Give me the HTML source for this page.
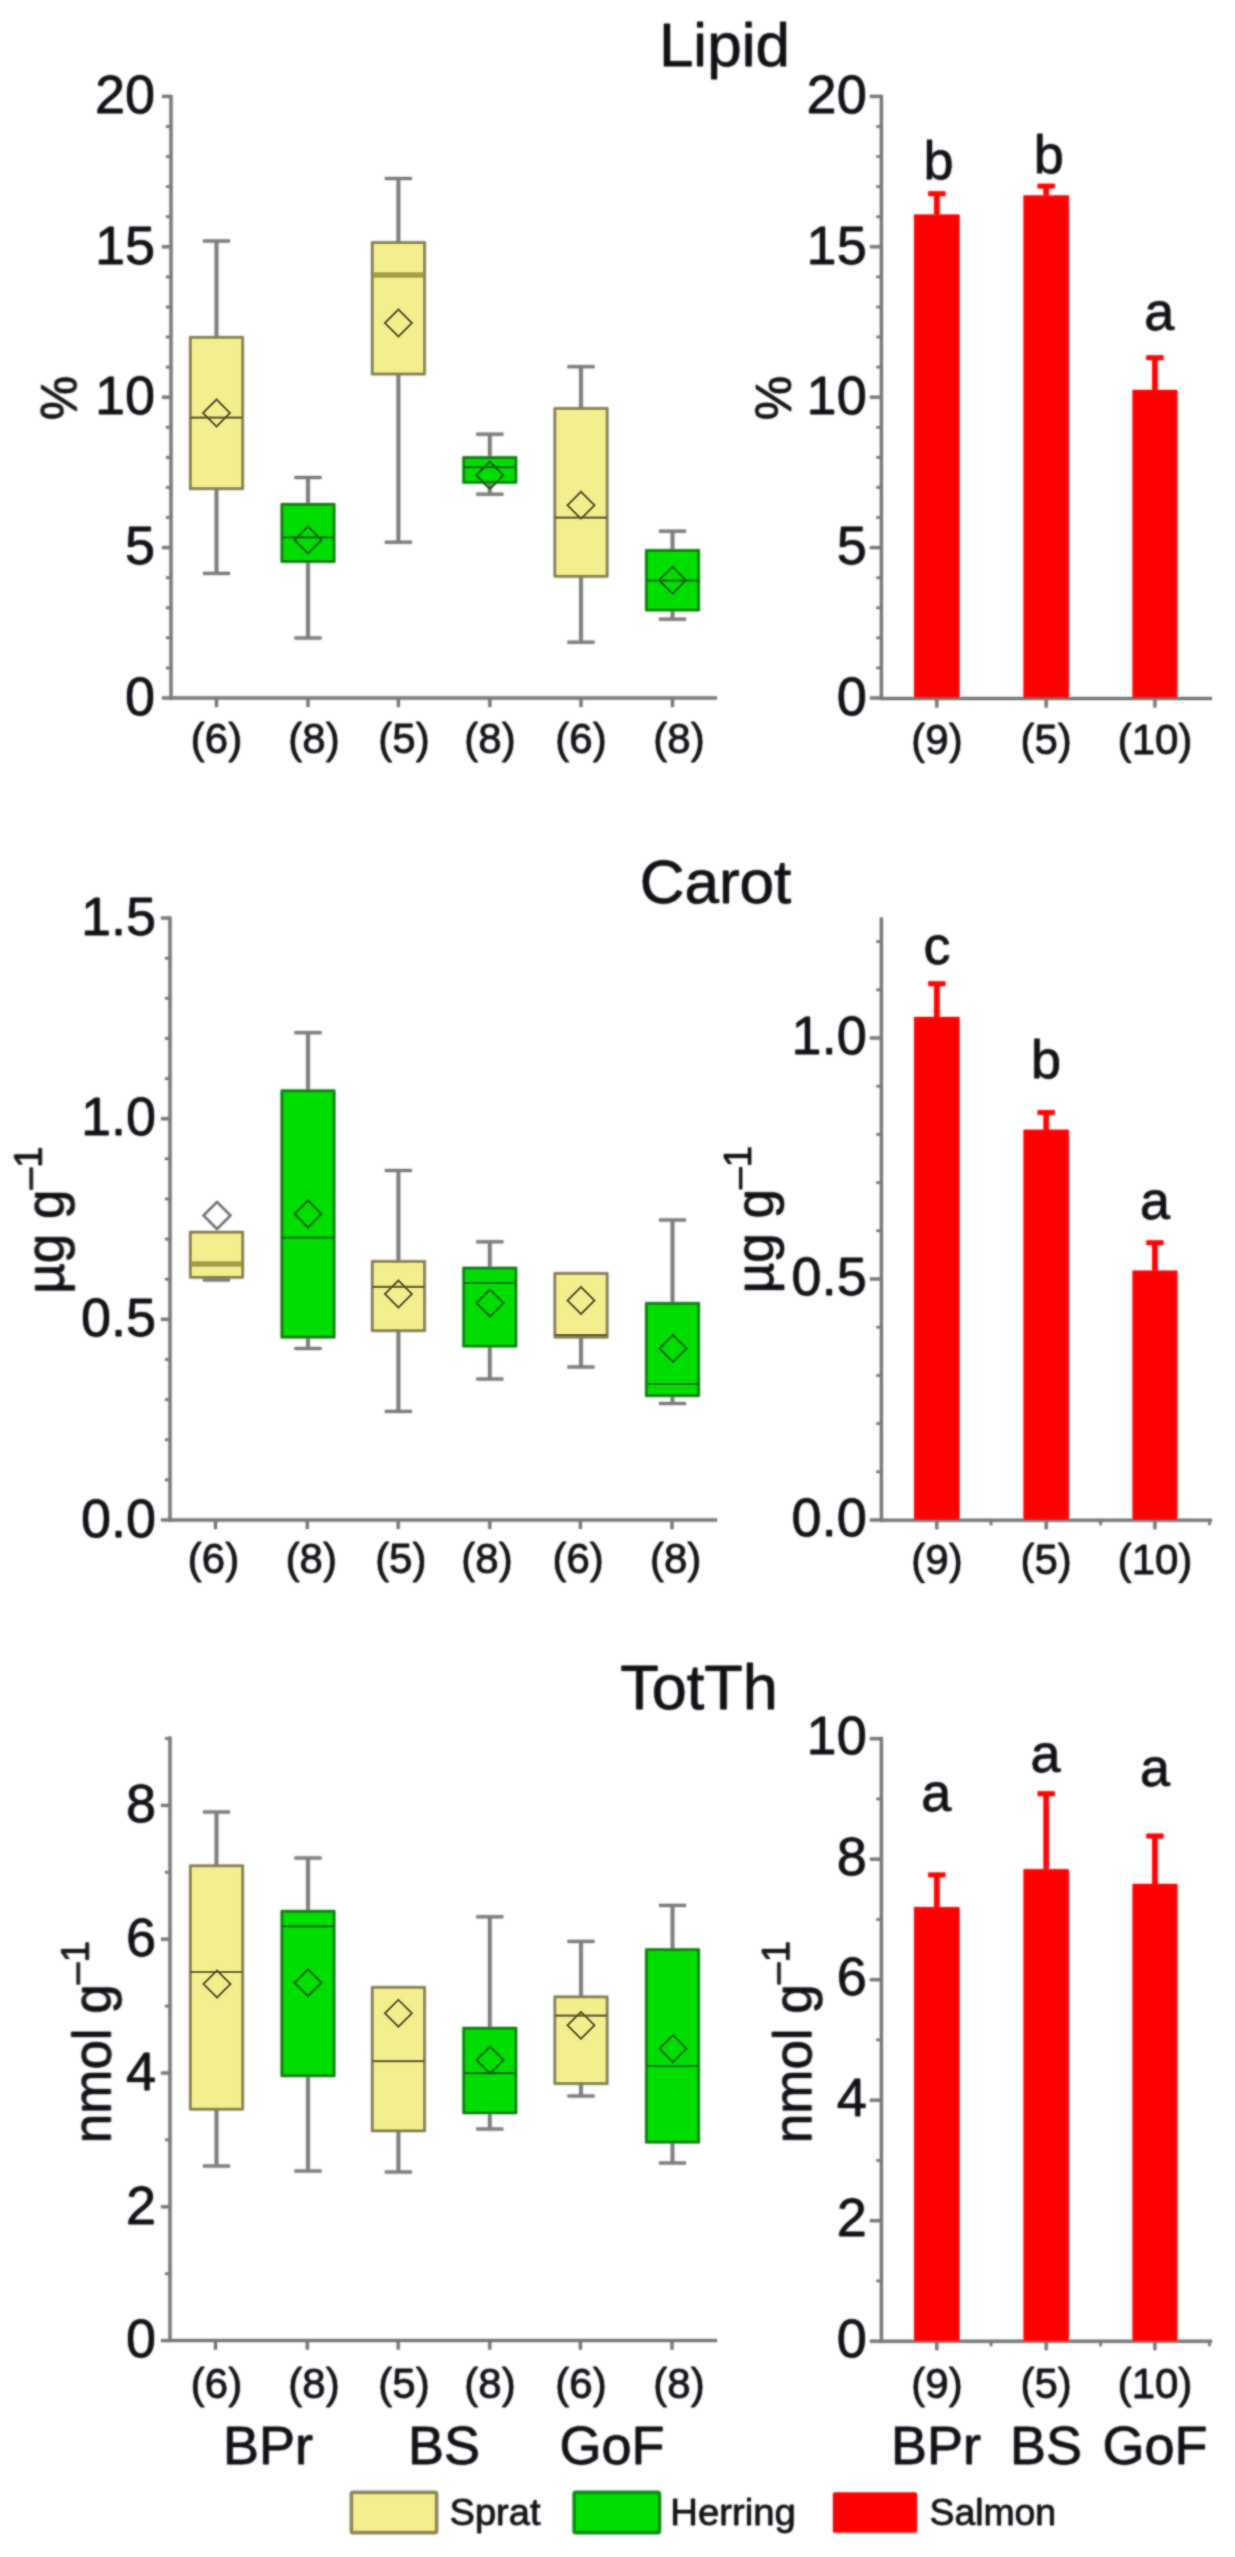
<!DOCTYPE html>
<html><head><meta charset="utf-8"><title>Figure</title>
<style>html,body{margin:0;padding:0;background:#fff}svg{display:block}</style>
</head><body>
<svg width="1235" height="2557" viewBox="0 0 1235 2557" font-family="Liberation Sans, Arial, sans-serif">
<style>text{stroke:#101014;stroke-width:0.3px;paint-order:stroke}</style>
<defs><filter id="soft" x="0" y="0" width="1235" height="2557" filterUnits="userSpaceOnUse"><feGaussianBlur stdDeviation="1"/></filter></defs>
<rect width="1235" height="2557" fill="#fff"/>
<use href="#fig" filter="url(#soft)"/>
<g opacity="0.5"><g id="fig">
<line x1="171.0" y1="94.9" x2="171.0" y2="699.5" stroke="#767676" stroke-width="3"/>
<line x1="169.5" y1="698.0" x2="717.0" y2="698.0" stroke="#767676" stroke-width="3"/>
<line x1="162.0" y1="698.0" x2="171.0" y2="698.0" stroke="#767676" stroke-width="3"/>
<text x="155.0" y="714.7" font-size="54" text-anchor="end" fill="#101014" >0</text>
<line x1="162.0" y1="547.6" x2="171.0" y2="547.6" stroke="#767676" stroke-width="3"/>
<text x="155.0" y="564.3" font-size="54" text-anchor="end" fill="#101014" >5</text>
<line x1="162.0" y1="397.2" x2="171.0" y2="397.2" stroke="#767676" stroke-width="3"/>
<text x="155.0" y="413.9" font-size="54" text-anchor="end" fill="#101014" >10</text>
<line x1="162.0" y1="246.8" x2="171.0" y2="246.8" stroke="#767676" stroke-width="3"/>
<text x="155.0" y="263.5" font-size="54" text-anchor="end" fill="#101014" >15</text>
<line x1="162.0" y1="96.4" x2="171.0" y2="96.4" stroke="#767676" stroke-width="3"/>
<text x="155.0" y="113.1" font-size="54" text-anchor="end" fill="#101014" >20</text>
<line x1="166.0" y1="667.9" x2="171.0" y2="667.9" stroke="#767676" stroke-width="2.4000000000000004"/>
<line x1="166.0" y1="637.8" x2="171.0" y2="637.8" stroke="#767676" stroke-width="2.4000000000000004"/>
<line x1="166.0" y1="607.8" x2="171.0" y2="607.8" stroke="#767676" stroke-width="2.4000000000000004"/>
<line x1="166.0" y1="577.7" x2="171.0" y2="577.7" stroke="#767676" stroke-width="2.4000000000000004"/>
<line x1="166.0" y1="517.5" x2="171.0" y2="517.5" stroke="#767676" stroke-width="2.4000000000000004"/>
<line x1="166.0" y1="487.4" x2="171.0" y2="487.4" stroke="#767676" stroke-width="2.4000000000000004"/>
<line x1="166.0" y1="457.4" x2="171.0" y2="457.4" stroke="#767676" stroke-width="2.4000000000000004"/>
<line x1="166.0" y1="427.3" x2="171.0" y2="427.3" stroke="#767676" stroke-width="2.4000000000000004"/>
<line x1="166.0" y1="367.1" x2="171.0" y2="367.1" stroke="#767676" stroke-width="2.4000000000000004"/>
<line x1="166.0" y1="337.0" x2="171.0" y2="337.0" stroke="#767676" stroke-width="2.4000000000000004"/>
<line x1="166.0" y1="307.0" x2="171.0" y2="307.0" stroke="#767676" stroke-width="2.4000000000000004"/>
<line x1="166.0" y1="276.9" x2="171.0" y2="276.9" stroke="#767676" stroke-width="2.4000000000000004"/>
<line x1="166.0" y1="216.7" x2="171.0" y2="216.7" stroke="#767676" stroke-width="2.4000000000000004"/>
<line x1="166.0" y1="186.6" x2="171.0" y2="186.6" stroke="#767676" stroke-width="2.4000000000000004"/>
<line x1="166.0" y1="156.6" x2="171.0" y2="156.6" stroke="#767676" stroke-width="2.4000000000000004"/>
<line x1="166.0" y1="126.5" x2="171.0" y2="126.5" stroke="#767676" stroke-width="2.4000000000000004"/>
<line x1="216.5" y1="698.0" x2="216.5" y2="707.0" stroke="#767676" stroke-width="3"/>
<line x1="308.0" y1="698.0" x2="308.0" y2="707.0" stroke="#767676" stroke-width="3"/>
<line x1="398.4" y1="698.0" x2="398.4" y2="707.0" stroke="#767676" stroke-width="3"/>
<line x1="489.8" y1="698.0" x2="489.8" y2="707.0" stroke="#767676" stroke-width="3"/>
<line x1="581.0" y1="698.0" x2="581.0" y2="707.0" stroke="#767676" stroke-width="3"/>
<line x1="672.5" y1="698.0" x2="672.5" y2="707.0" stroke="#767676" stroke-width="3"/>
<line x1="216.5" y1="241.0" x2="216.5" y2="337.5" stroke="#7a7a7a" stroke-width="3.5"/>
<line x1="203.0" y1="241.0" x2="230.0" y2="241.0" stroke="#7a7a7a" stroke-width="3"/>
<line x1="216.5" y1="488.5" x2="216.5" y2="573.4" stroke="#7a7a7a" stroke-width="3.5"/>
<line x1="203.0" y1="573.4" x2="230.0" y2="573.4" stroke="#7a7a7a" stroke-width="3"/>
<rect x="190.5" y="337.5" width="52.0" height="151.0" fill="#f3ee8e" stroke="#817c4e" stroke-width="2.6"/>
<line x1="190.5" y1="417.7" x2="242.5" y2="417.7" stroke="#5a5528" stroke-width="2.2"/>
<path d="M203.0 413.0 L216.5 399.5 L230.0 413.0 L216.5 426.5 Z" fill="none" stroke="#4a4622" stroke-width="2"/>
<line x1="308.0" y1="477.5" x2="308.0" y2="504.5" stroke="#7a7a7a" stroke-width="3.5"/>
<line x1="294.5" y1="477.5" x2="321.5" y2="477.5" stroke="#7a7a7a" stroke-width="3"/>
<line x1="308.0" y1="561.4" x2="308.0" y2="638.0" stroke="#7a7a7a" stroke-width="3.5"/>
<line x1="294.5" y1="638.0" x2="321.5" y2="638.0" stroke="#7a7a7a" stroke-width="3"/>
<rect x="282.0" y="504.5" width="52.0" height="56.9" fill="#00de02" stroke="#0c7a0c" stroke-width="2.6"/>
<line x1="282.0" y1="537.4" x2="334.0" y2="537.4" stroke="#0c6a0c" stroke-width="2.2"/>
<path d="M294.5 540.0 L308.0 526.5 L321.5 540.0 L308.0 553.5 Z" fill="none" stroke="#0b5a0b" stroke-width="2"/>
<line x1="398.4" y1="178.5" x2="398.4" y2="242.7" stroke="#7a7a7a" stroke-width="3.5"/>
<line x1="384.9" y1="178.5" x2="411.9" y2="178.5" stroke="#7a7a7a" stroke-width="3"/>
<line x1="398.4" y1="373.9" x2="398.4" y2="542.2" stroke="#7a7a7a" stroke-width="3.5"/>
<line x1="384.9" y1="542.2" x2="411.9" y2="542.2" stroke="#7a7a7a" stroke-width="3"/>
<rect x="372.4" y="242.7" width="52.0" height="131.2" fill="#f3ee8e" stroke="#817c4e" stroke-width="2.6"/>
<line x1="373.4" y1="275.0" x2="423.4" y2="275.0" stroke="#a39d48" stroke-width="5.5"/>
<path d="M384.9 323.0 L398.4 309.5 L411.9 323.0 L398.4 336.5 Z" fill="none" stroke="#4a4622" stroke-width="2"/>
<line x1="489.8" y1="434.2" x2="489.8" y2="457.7" stroke="#7a7a7a" stroke-width="3.5"/>
<line x1="476.3" y1="434.2" x2="503.3" y2="434.2" stroke="#7a7a7a" stroke-width="3"/>
<line x1="489.8" y1="482.2" x2="489.8" y2="494.2" stroke="#7a7a7a" stroke-width="3.5"/>
<line x1="476.3" y1="494.2" x2="503.3" y2="494.2" stroke="#7a7a7a" stroke-width="3"/>
<rect x="463.8" y="457.7" width="52.0" height="24.5" fill="#00de02" stroke="#0c7a0c" stroke-width="2.6"/>
<line x1="463.8" y1="467.2" x2="515.8" y2="467.2" stroke="#0c6a0c" stroke-width="2.2"/>
<path d="M476.3 475.2 L489.8 461.7 L503.3 475.2 L489.8 488.7 Z" fill="none" stroke="#0b5a0b" stroke-width="2"/>
<line x1="581.0" y1="366.7" x2="581.0" y2="408.6" stroke="#7a7a7a" stroke-width="3.5"/>
<line x1="567.5" y1="366.7" x2="594.5" y2="366.7" stroke="#7a7a7a" stroke-width="3"/>
<line x1="581.0" y1="576.2" x2="581.0" y2="642.2" stroke="#7a7a7a" stroke-width="3.5"/>
<line x1="567.5" y1="642.2" x2="594.5" y2="642.2" stroke="#7a7a7a" stroke-width="3"/>
<rect x="555.0" y="408.6" width="52.0" height="167.6" fill="#f3ee8e" stroke="#817c4e" stroke-width="2.6"/>
<line x1="555.0" y1="517.7" x2="607.0" y2="517.7" stroke="#5a5528" stroke-width="2.2"/>
<path d="M567.5 505.2 L581.0 491.7 L594.5 505.2 L581.0 518.7 Z" fill="none" stroke="#4a4622" stroke-width="2"/>
<line x1="672.5" y1="531.2" x2="672.5" y2="550.6" stroke="#7a7a7a" stroke-width="3.5"/>
<line x1="659.0" y1="531.2" x2="686.0" y2="531.2" stroke="#7a7a7a" stroke-width="3"/>
<line x1="672.5" y1="609.9" x2="672.5" y2="619.2" stroke="#7a7a7a" stroke-width="3.5"/>
<line x1="659.0" y1="619.2" x2="686.0" y2="619.2" stroke="#7a7a7a" stroke-width="3"/>
<rect x="646.5" y="550.6" width="52.0" height="59.3" fill="#00de02" stroke="#0c7a0c" stroke-width="2.6"/>
<line x1="646.5" y1="580.6" x2="698.5" y2="580.6" stroke="#0c6a0c" stroke-width="2.2"/>
<path d="M659.0 580.2 L672.5 566.7 L686.0 580.2 L672.5 593.7 Z" fill="none" stroke="#0b5a0b" stroke-width="2"/>
<text x="216.5" y="753.2" font-size="42" text-anchor="middle" fill="#101014" >(6)</text>
<text x="314.0" y="753.2" font-size="42" text-anchor="middle" fill="#101014" >(8)</text>
<text x="404.0" y="753.2" font-size="42" text-anchor="middle" fill="#101014" >(5)</text>
<text x="490.0" y="753.2" font-size="42" text-anchor="middle" fill="#101014" >(8)</text>
<text x="581.0" y="753.2" font-size="42" text-anchor="middle" fill="#101014" >(6)</text>
<text x="679.0" y="753.2" font-size="42" text-anchor="middle" fill="#101014" >(8)</text>
<text x="724.4" y="66.0" font-size="62" text-anchor="middle" fill="#101014" >Lipid</text>
<text transform="translate(76.5,398) rotate(-90)" font-size="50" text-anchor="middle" fill="#101014">%</text>
<line x1="881.4" y1="94.9" x2="881.4" y2="700.0" stroke="#767676" stroke-width="3"/>
<line x1="879.9" y1="698.5" x2="1212.0" y2="698.5" stroke="#767676" stroke-width="3"/>
<line x1="869.9" y1="698.0" x2="881.4" y2="698.0" stroke="#767676" stroke-width="3"/>
<text x="866.7" y="714.7" font-size="54" text-anchor="end" fill="#101014" >0</text>
<line x1="869.9" y1="547.6" x2="881.4" y2="547.6" stroke="#767676" stroke-width="3"/>
<text x="866.7" y="564.3" font-size="54" text-anchor="end" fill="#101014" >5</text>
<line x1="869.9" y1="397.2" x2="881.4" y2="397.2" stroke="#767676" stroke-width="3"/>
<text x="866.7" y="413.9" font-size="54" text-anchor="end" fill="#101014" >10</text>
<line x1="869.9" y1="246.8" x2="881.4" y2="246.8" stroke="#767676" stroke-width="3"/>
<text x="866.7" y="263.5" font-size="54" text-anchor="end" fill="#101014" >15</text>
<line x1="869.9" y1="96.4" x2="881.4" y2="96.4" stroke="#767676" stroke-width="3"/>
<text x="866.7" y="113.1" font-size="54" text-anchor="end" fill="#101014" >20</text>
<line x1="876.4" y1="667.9" x2="881.4" y2="667.9" stroke="#767676" stroke-width="2.4000000000000004"/>
<line x1="876.4" y1="637.8" x2="881.4" y2="637.8" stroke="#767676" stroke-width="2.4000000000000004"/>
<line x1="876.4" y1="607.8" x2="881.4" y2="607.8" stroke="#767676" stroke-width="2.4000000000000004"/>
<line x1="876.4" y1="577.7" x2="881.4" y2="577.7" stroke="#767676" stroke-width="2.4000000000000004"/>
<line x1="876.4" y1="517.5" x2="881.4" y2="517.5" stroke="#767676" stroke-width="2.4000000000000004"/>
<line x1="876.4" y1="487.4" x2="881.4" y2="487.4" stroke="#767676" stroke-width="2.4000000000000004"/>
<line x1="876.4" y1="457.4" x2="881.4" y2="457.4" stroke="#767676" stroke-width="2.4000000000000004"/>
<line x1="876.4" y1="427.3" x2="881.4" y2="427.3" stroke="#767676" stroke-width="2.4000000000000004"/>
<line x1="876.4" y1="367.1" x2="881.4" y2="367.1" stroke="#767676" stroke-width="2.4000000000000004"/>
<line x1="876.4" y1="337.0" x2="881.4" y2="337.0" stroke="#767676" stroke-width="2.4000000000000004"/>
<line x1="876.4" y1="307.0" x2="881.4" y2="307.0" stroke="#767676" stroke-width="2.4000000000000004"/>
<line x1="876.4" y1="276.9" x2="881.4" y2="276.9" stroke="#767676" stroke-width="2.4000000000000004"/>
<line x1="876.4" y1="216.7" x2="881.4" y2="216.7" stroke="#767676" stroke-width="2.4000000000000004"/>
<line x1="876.4" y1="186.6" x2="881.4" y2="186.6" stroke="#767676" stroke-width="2.4000000000000004"/>
<line x1="876.4" y1="156.6" x2="881.4" y2="156.6" stroke="#767676" stroke-width="2.4000000000000004"/>
<line x1="876.4" y1="126.5" x2="881.4" y2="126.5" stroke="#767676" stroke-width="2.4000000000000004"/>
<line x1="936.8" y1="698.5" x2="936.8" y2="707.5" stroke="#767676" stroke-width="3"/>
<line x1="1046.2" y1="698.5" x2="1046.2" y2="707.5" stroke="#767676" stroke-width="3"/>
<line x1="1154.9" y1="698.5" x2="1154.9" y2="707.5" stroke="#767676" stroke-width="3"/>
<rect x="914.2" y="214.6" width="45.2" height="483.4" fill="#ff0000"/>
<line x1="936.8" y1="193.0" x2="936.8" y2="214.6" stroke="#ff0000" stroke-width="5.2"/>
<line x1="928.3" y1="193.7" x2="945.3" y2="193.7" stroke="#ff0000" stroke-width="4.6"/>
<rect x="1023.6" y="195.5" width="45.2" height="502.5" fill="#ff0000"/>
<line x1="1046.2" y1="185.4" x2="1046.2" y2="195.5" stroke="#ff0000" stroke-width="5.2"/>
<line x1="1037.7" y1="186.1" x2="1054.7" y2="186.1" stroke="#ff0000" stroke-width="4.6"/>
<rect x="1132.6" y="390.0" width="44.7" height="308.0" fill="#ff0000"/>
<line x1="1154.9" y1="357.0" x2="1154.9" y2="390.0" stroke="#ff0000" stroke-width="5.2"/>
<line x1="1146.4" y1="357.7" x2="1163.4" y2="357.7" stroke="#ff0000" stroke-width="4.6"/>
<text x="937.0" y="753.6" font-size="42" text-anchor="middle" fill="#101014" >(9)</text>
<text x="1046.2" y="753.6" font-size="42" text-anchor="middle" fill="#101014" >(5)</text>
<text x="1155.0" y="753.6" font-size="42" text-anchor="middle" fill="#101014" >(10)</text>
<text x="938.6" y="178.5" font-size="54" text-anchor="middle" fill="#101014" >b</text>
<text x="1048.8" y="172.5" font-size="54" text-anchor="middle" fill="#101014" >b</text>
<text x="1159.3" y="329.5" font-size="54" text-anchor="middle" fill="#101014" >a</text>
<text transform="translate(790.5,398) rotate(-90)" font-size="50" text-anchor="middle" fill="#101014">%</text>
<line x1="170.0" y1="916.6" x2="170.0" y2="1521.5" stroke="#767676" stroke-width="3"/>
<line x1="168.5" y1="1520.0" x2="717.0" y2="1520.0" stroke="#767676" stroke-width="3"/>
<line x1="161.0" y1="1520.0" x2="170.0" y2="1520.0" stroke="#767676" stroke-width="3"/>
<text x="156.0" y="1536.7" font-size="54" text-anchor="end" fill="#101014" >0.0</text>
<line x1="161.0" y1="1319.3" x2="170.0" y2="1319.3" stroke="#767676" stroke-width="3"/>
<text x="156.0" y="1336.0" font-size="54" text-anchor="end" fill="#101014" >0.5</text>
<line x1="161.0" y1="1118.7" x2="170.0" y2="1118.7" stroke="#767676" stroke-width="3"/>
<text x="156.0" y="1135.4" font-size="54" text-anchor="end" fill="#101014" >1.0</text>
<line x1="161.0" y1="918.0" x2="170.0" y2="918.0" stroke="#767676" stroke-width="3"/>
<text x="156.0" y="934.8" font-size="54" text-anchor="end" fill="#101014" >1.5</text>
<line x1="165.0" y1="1479.9" x2="170.0" y2="1479.9" stroke="#767676" stroke-width="2.4000000000000004"/>
<line x1="165.0" y1="1439.7" x2="170.0" y2="1439.7" stroke="#767676" stroke-width="2.4000000000000004"/>
<line x1="165.0" y1="1399.6" x2="170.0" y2="1399.6" stroke="#767676" stroke-width="2.4000000000000004"/>
<line x1="165.0" y1="1359.5" x2="170.0" y2="1359.5" stroke="#767676" stroke-width="2.4000000000000004"/>
<line x1="165.0" y1="1279.2" x2="170.0" y2="1279.2" stroke="#767676" stroke-width="2.4000000000000004"/>
<line x1="165.0" y1="1239.1" x2="170.0" y2="1239.1" stroke="#767676" stroke-width="2.4000000000000004"/>
<line x1="165.0" y1="1199.0" x2="170.0" y2="1199.0" stroke="#767676" stroke-width="2.4000000000000004"/>
<line x1="165.0" y1="1158.8" x2="170.0" y2="1158.8" stroke="#767676" stroke-width="2.4000000000000004"/>
<line x1="165.0" y1="1078.6" x2="170.0" y2="1078.6" stroke="#767676" stroke-width="2.4000000000000004"/>
<line x1="165.0" y1="1038.4" x2="170.0" y2="1038.4" stroke="#767676" stroke-width="2.4000000000000004"/>
<line x1="165.0" y1="998.3" x2="170.0" y2="998.3" stroke="#767676" stroke-width="2.4000000000000004"/>
<line x1="165.0" y1="958.2" x2="170.0" y2="958.2" stroke="#767676" stroke-width="2.4000000000000004"/>
<line x1="215.5" y1="1520.0" x2="215.5" y2="1529.0" stroke="#767676" stroke-width="3"/>
<line x1="307.3" y1="1520.0" x2="307.3" y2="1529.0" stroke="#767676" stroke-width="3"/>
<line x1="398.2" y1="1520.0" x2="398.2" y2="1529.0" stroke="#767676" stroke-width="3"/>
<line x1="489.8" y1="1520.0" x2="489.8" y2="1529.0" stroke="#767676" stroke-width="3"/>
<line x1="580.4" y1="1520.0" x2="580.4" y2="1529.0" stroke="#767676" stroke-width="3"/>
<line x1="672.0" y1="1520.0" x2="672.0" y2="1529.0" stroke="#767676" stroke-width="3"/>
<line x1="216.5" y1="1277.2" x2="216.5" y2="1280.0" stroke="#7a7a7a" stroke-width="3.5"/>
<line x1="203.0" y1="1280.0" x2="230.0" y2="1280.0" stroke="#7a7a7a" stroke-width="3"/>
<rect x="190.5" y="1232.3" width="52.0" height="44.9" fill="#f3ee8e" stroke="#817c4e" stroke-width="2.6"/>
<line x1="191.5" y1="1264.0" x2="241.5" y2="1264.0" stroke="#a39d48" stroke-width="5.5"/>
<path d="M203.5 1215.5 L217.0 1202.0 L230.5 1215.5 L217.0 1229.0 Z" fill="none" stroke="#6a6a6a" stroke-width="2"/>
<line x1="308.0" y1="1032.7" x2="308.0" y2="1090.9" stroke="#7a7a7a" stroke-width="3.5"/>
<line x1="294.5" y1="1032.7" x2="321.5" y2="1032.7" stroke="#7a7a7a" stroke-width="3"/>
<line x1="308.0" y1="1337.0" x2="308.0" y2="1348.5" stroke="#7a7a7a" stroke-width="3.5"/>
<line x1="294.5" y1="1348.5" x2="321.5" y2="1348.5" stroke="#7a7a7a" stroke-width="3"/>
<rect x="282.0" y="1090.9" width="52.0" height="246.1" fill="#00de02" stroke="#0c7a0c" stroke-width="2.6"/>
<line x1="282.0" y1="1237.7" x2="334.0" y2="1237.7" stroke="#0c6a0c" stroke-width="2.2"/>
<path d="M294.5 1214.0 L308.0 1200.5 L321.5 1214.0 L308.0 1227.5 Z" fill="none" stroke="#0b5a0b" stroke-width="2"/>
<line x1="398.4" y1="1170.5" x2="398.4" y2="1261.6" stroke="#7a7a7a" stroke-width="3.5"/>
<line x1="384.9" y1="1170.5" x2="411.9" y2="1170.5" stroke="#7a7a7a" stroke-width="3"/>
<line x1="398.4" y1="1330.5" x2="398.4" y2="1411.4" stroke="#7a7a7a" stroke-width="3.5"/>
<line x1="384.9" y1="1411.4" x2="411.9" y2="1411.4" stroke="#7a7a7a" stroke-width="3"/>
<rect x="372.4" y="1261.6" width="52.0" height="68.9" fill="#f3ee8e" stroke="#817c4e" stroke-width="2.6"/>
<line x1="372.4" y1="1286.8" x2="424.4" y2="1286.8" stroke="#5a5528" stroke-width="2.2"/>
<path d="M384.9 1294.0 L398.4 1280.5 L411.9 1294.0 L398.4 1307.5 Z" fill="none" stroke="#4a4622" stroke-width="2"/>
<line x1="489.8" y1="1241.8" x2="489.8" y2="1268.2" stroke="#7a7a7a" stroke-width="3.5"/>
<line x1="476.3" y1="1241.8" x2="503.3" y2="1241.8" stroke="#7a7a7a" stroke-width="3"/>
<line x1="489.8" y1="1346.0" x2="489.8" y2="1379.0" stroke="#7a7a7a" stroke-width="3.5"/>
<line x1="476.3" y1="1379.0" x2="503.3" y2="1379.0" stroke="#7a7a7a" stroke-width="3"/>
<rect x="463.8" y="1268.2" width="52.0" height="77.8" fill="#00de02" stroke="#0c7a0c" stroke-width="2.6"/>
<line x1="463.8" y1="1283.0" x2="515.8" y2="1283.0" stroke="#0c6a0c" stroke-width="2.2"/>
<path d="M476.5 1303.0 L490.0 1289.5 L503.5 1303.0 L490.0 1316.5 Z" fill="none" stroke="#0b5a0b" stroke-width="2"/>
<line x1="581.0" y1="1337.0" x2="581.0" y2="1367.0" stroke="#7a7a7a" stroke-width="3.5"/>
<line x1="567.5" y1="1367.0" x2="594.5" y2="1367.0" stroke="#7a7a7a" stroke-width="3"/>
<rect x="555.0" y="1273.6" width="52.0" height="63.4" fill="#f3ee8e" stroke="#817c4e" stroke-width="2.6"/>
<line x1="555.0" y1="1335.0" x2="607.0" y2="1335.0" stroke="#5a5528" stroke-width="2.2"/>
<path d="M567.5 1300.5 L581.0 1287.0 L594.5 1300.5 L581.0 1314.0 Z" fill="none" stroke="#4a4622" stroke-width="2"/>
<line x1="672.5" y1="1220.0" x2="672.5" y2="1303.5" stroke="#7a7a7a" stroke-width="3.5"/>
<line x1="659.0" y1="1220.0" x2="686.0" y2="1220.0" stroke="#7a7a7a" stroke-width="3"/>
<line x1="672.5" y1="1395.5" x2="672.5" y2="1403.5" stroke="#7a7a7a" stroke-width="3.5"/>
<line x1="659.0" y1="1403.5" x2="686.0" y2="1403.5" stroke="#7a7a7a" stroke-width="3"/>
<rect x="646.5" y="1303.5" width="52.0" height="92.0" fill="#00de02" stroke="#0c7a0c" stroke-width="2.6"/>
<line x1="646.5" y1="1384.0" x2="698.5" y2="1384.0" stroke="#0c6a0c" stroke-width="2.2"/>
<path d="M659.5 1348.5 L673.0 1335.0 L686.5 1348.5 L673.0 1362.0 Z" fill="none" stroke="#0b5a0b" stroke-width="2"/>
<text x="213.5" y="1573.0" font-size="42" text-anchor="middle" fill="#101014" >(6)</text>
<text x="311.3" y="1573.0" font-size="42" text-anchor="middle" fill="#101014" >(8)</text>
<text x="400.8" y="1573.0" font-size="42" text-anchor="middle" fill="#101014" >(5)</text>
<text x="487.0" y="1573.0" font-size="42" text-anchor="middle" fill="#101014" >(8)</text>
<text x="578.2" y="1573.0" font-size="42" text-anchor="middle" fill="#101014" >(6)</text>
<text x="675.7" y="1573.0" font-size="42" text-anchor="middle" fill="#101014" >(8)</text>
<text x="715.5" y="902.5" font-size="62" text-anchor="middle" fill="#101014" >Carot</text>
<text transform="translate(63.5,1220) rotate(-90)" font-size="53" text-anchor="middle" fill="#101014">µg g<tspan font-size="39" dy="-22">–1</tspan></text>
<line x1="881.4" y1="917.5" x2="881.4" y2="1521.7" stroke="#767676" stroke-width="3"/>
<line x1="879.9" y1="1520.2" x2="1212.0" y2="1520.2" stroke="#767676" stroke-width="3"/>
<line x1="869.9" y1="1520.0" x2="881.4" y2="1520.0" stroke="#767676" stroke-width="3"/>
<text x="866.7" y="1536.2" font-size="54" text-anchor="end" fill="#101014" >0.0</text>
<line x1="869.9" y1="1279.0" x2="881.4" y2="1279.0" stroke="#767676" stroke-width="3"/>
<text x="866.7" y="1295.2" font-size="54" text-anchor="end" fill="#101014" >0.5</text>
<line x1="869.9" y1="1038.0" x2="881.4" y2="1038.0" stroke="#767676" stroke-width="3"/>
<text x="866.7" y="1054.2" font-size="54" text-anchor="end" fill="#101014" >1.0</text>
<line x1="876.4" y1="1471.8" x2="881.4" y2="1471.8" stroke="#767676" stroke-width="2.4000000000000004"/>
<line x1="876.4" y1="1423.6" x2="881.4" y2="1423.6" stroke="#767676" stroke-width="2.4000000000000004"/>
<line x1="876.4" y1="1375.4" x2="881.4" y2="1375.4" stroke="#767676" stroke-width="2.4000000000000004"/>
<line x1="876.4" y1="1327.2" x2="881.4" y2="1327.2" stroke="#767676" stroke-width="2.4000000000000004"/>
<line x1="876.4" y1="1230.8" x2="881.4" y2="1230.8" stroke="#767676" stroke-width="2.4000000000000004"/>
<line x1="876.4" y1="1182.6" x2="881.4" y2="1182.6" stroke="#767676" stroke-width="2.4000000000000004"/>
<line x1="876.4" y1="1134.4" x2="881.4" y2="1134.4" stroke="#767676" stroke-width="2.4000000000000004"/>
<line x1="876.4" y1="1086.2" x2="881.4" y2="1086.2" stroke="#767676" stroke-width="2.4000000000000004"/>
<line x1="876.4" y1="989.8" x2="881.4" y2="989.8" stroke="#767676" stroke-width="2.4000000000000004"/>
<line x1="876.4" y1="941.6" x2="881.4" y2="941.6" stroke="#767676" stroke-width="2.4000000000000004"/>
<line x1="936.8" y1="1520.2" x2="936.8" y2="1529.2" stroke="#767676" stroke-width="3"/>
<line x1="1046.2" y1="1520.2" x2="1046.2" y2="1529.2" stroke="#767676" stroke-width="3"/>
<line x1="1154.9" y1="1520.2" x2="1154.9" y2="1529.2" stroke="#767676" stroke-width="3"/>
<line x1="991.0" y1="1520.2" x2="991.0" y2="1525.2" stroke="#767676" stroke-width="2.4000000000000004"/>
<line x1="1100.6" y1="1520.2" x2="1100.6" y2="1525.2" stroke="#767676" stroke-width="2.4000000000000004"/>
<line x1="1209.5" y1="1520.2" x2="1209.5" y2="1525.2" stroke="#767676" stroke-width="2.4000000000000004"/>
<rect x="914.2" y="1017.0" width="45.2" height="503.0" fill="#ff0000"/>
<line x1="936.8" y1="983.0" x2="936.8" y2="1017.0" stroke="#ff0000" stroke-width="5.2"/>
<line x1="928.3" y1="983.7" x2="945.3" y2="983.7" stroke="#ff0000" stroke-width="4.6"/>
<rect x="1023.6" y="1129.8" width="45.2" height="390.2" fill="#ff0000"/>
<line x1="1046.2" y1="1111.8" x2="1046.2" y2="1129.8" stroke="#ff0000" stroke-width="5.2"/>
<line x1="1037.7" y1="1112.5" x2="1054.7" y2="1112.5" stroke="#ff0000" stroke-width="4.6"/>
<rect x="1132.6" y="1270.7" width="44.7" height="249.3" fill="#ff0000"/>
<line x1="1154.9" y1="1242.0" x2="1154.9" y2="1270.7" stroke="#ff0000" stroke-width="5.2"/>
<line x1="1146.4" y1="1242.7" x2="1163.4" y2="1242.7" stroke="#ff0000" stroke-width="4.6"/>
<text x="937.0" y="1573.6" font-size="42" text-anchor="middle" fill="#101014" >(9)</text>
<text x="1046.2" y="1573.6" font-size="42" text-anchor="middle" fill="#101014" >(5)</text>
<text x="1155.0" y="1573.6" font-size="42" text-anchor="middle" fill="#101014" >(10)</text>
<text x="937.0" y="964.0" font-size="54" text-anchor="middle" fill="#101014" >c</text>
<text x="1046.0" y="1078.4" font-size="54" text-anchor="middle" fill="#101014" >b</text>
<text x="1155.0" y="1219.0" font-size="54" text-anchor="middle" fill="#101014" >a</text>
<text transform="translate(772.8,1219.5) rotate(-90)" font-size="53" text-anchor="middle" fill="#101014">µg g<tspan font-size="39" dy="-22">–1</tspan></text>
<line x1="170.0" y1="1736.6" x2="170.0" y2="2342.1" stroke="#767676" stroke-width="3"/>
<line x1="168.5" y1="2340.6" x2="717.0" y2="2340.6" stroke="#767676" stroke-width="3"/>
<line x1="161.0" y1="2340.6" x2="170.0" y2="2340.6" stroke="#767676" stroke-width="3"/>
<text x="156.0" y="2357.3" font-size="54" text-anchor="end" fill="#101014" >0</text>
<line x1="161.0" y1="2206.8" x2="170.0" y2="2206.8" stroke="#767676" stroke-width="3"/>
<text x="156.0" y="2223.5" font-size="54" text-anchor="end" fill="#101014" >2</text>
<line x1="161.0" y1="2073.0" x2="170.0" y2="2073.0" stroke="#767676" stroke-width="3"/>
<text x="156.0" y="2089.7" font-size="54" text-anchor="end" fill="#101014" >4</text>
<line x1="161.0" y1="1939.2" x2="170.0" y2="1939.2" stroke="#767676" stroke-width="3"/>
<text x="156.0" y="1955.9" font-size="54" text-anchor="end" fill="#101014" >6</text>
<line x1="161.0" y1="1805.4" x2="170.0" y2="1805.4" stroke="#767676" stroke-width="3"/>
<text x="156.0" y="1822.1" font-size="54" text-anchor="end" fill="#101014" >8</text>
<line x1="165.0" y1="2273.7" x2="170.0" y2="2273.7" stroke="#767676" stroke-width="2.4000000000000004"/>
<line x1="165.0" y1="2139.9" x2="170.0" y2="2139.9" stroke="#767676" stroke-width="2.4000000000000004"/>
<line x1="165.0" y1="2006.1" x2="170.0" y2="2006.1" stroke="#767676" stroke-width="2.4000000000000004"/>
<line x1="165.0" y1="1872.3" x2="170.0" y2="1872.3" stroke="#767676" stroke-width="2.4000000000000004"/>
<line x1="165.0" y1="1738.5" x2="170.0" y2="1738.5" stroke="#767676" stroke-width="2.4000000000000004"/>
<line x1="215.5" y1="2340.6" x2="215.5" y2="2349.6" stroke="#767676" stroke-width="3"/>
<line x1="307.3" y1="2340.6" x2="307.3" y2="2349.6" stroke="#767676" stroke-width="3"/>
<line x1="398.2" y1="2340.6" x2="398.2" y2="2349.6" stroke="#767676" stroke-width="3"/>
<line x1="489.8" y1="2340.6" x2="489.8" y2="2349.6" stroke="#767676" stroke-width="3"/>
<line x1="580.4" y1="2340.6" x2="580.4" y2="2349.6" stroke="#767676" stroke-width="3"/>
<line x1="672.0" y1="2340.6" x2="672.0" y2="2349.6" stroke="#767676" stroke-width="3"/>
<line x1="216.5" y1="1812.0" x2="216.5" y2="1865.9" stroke="#7a7a7a" stroke-width="3.5"/>
<line x1="203.0" y1="1812.0" x2="230.0" y2="1812.0" stroke="#7a7a7a" stroke-width="3"/>
<line x1="216.5" y1="2109.1" x2="216.5" y2="2166.0" stroke="#7a7a7a" stroke-width="3.5"/>
<line x1="203.0" y1="2166.0" x2="230.0" y2="2166.0" stroke="#7a7a7a" stroke-width="3"/>
<rect x="190.5" y="1865.9" width="52.0" height="243.2" fill="#f3ee8e" stroke="#817c4e" stroke-width="2.6"/>
<line x1="190.5" y1="1972.0" x2="242.5" y2="1972.0" stroke="#5a5528" stroke-width="2.2"/>
<path d="M203.5 1984.0 L217.0 1970.5 L230.5 1984.0 L217.0 1997.5 Z" fill="none" stroke="#4a4622" stroke-width="2"/>
<line x1="308.0" y1="1858.0" x2="308.0" y2="1911.4" stroke="#7a7a7a" stroke-width="3.5"/>
<line x1="294.5" y1="1858.0" x2="321.5" y2="1858.0" stroke="#7a7a7a" stroke-width="3"/>
<line x1="308.0" y1="2075.6" x2="308.0" y2="2171.0" stroke="#7a7a7a" stroke-width="3.5"/>
<line x1="294.5" y1="2171.0" x2="321.5" y2="2171.0" stroke="#7a7a7a" stroke-width="3"/>
<rect x="282.0" y="1911.4" width="52.0" height="164.2" fill="#00de02" stroke="#0c7a0c" stroke-width="2.6"/>
<line x1="282.0" y1="1926.4" x2="334.0" y2="1926.4" stroke="#0c6a0c" stroke-width="2.2"/>
<path d="M294.5 1982.7 L308.0 1969.2 L321.5 1982.7 L308.0 1996.2 Z" fill="none" stroke="#0b5a0b" stroke-width="2"/>
<line x1="398.4" y1="2130.7" x2="398.4" y2="2172.0" stroke="#7a7a7a" stroke-width="3.5"/>
<line x1="384.9" y1="2172.0" x2="411.9" y2="2172.0" stroke="#7a7a7a" stroke-width="3"/>
<rect x="372.4" y="1987.5" width="52.0" height="143.2" fill="#f3ee8e" stroke="#817c4e" stroke-width="2.6"/>
<line x1="372.4" y1="2061.2" x2="424.4" y2="2061.2" stroke="#5a5528" stroke-width="2.2"/>
<path d="M384.9 2013.3 L398.4 1999.8 L411.9 2013.3 L398.4 2026.8 Z" fill="none" stroke="#4a4622" stroke-width="2"/>
<line x1="489.8" y1="1916.8" x2="489.8" y2="2028.3" stroke="#7a7a7a" stroke-width="3.5"/>
<line x1="476.3" y1="1916.8" x2="503.3" y2="1916.8" stroke="#7a7a7a" stroke-width="3"/>
<line x1="489.8" y1="2112.7" x2="489.8" y2="2129.0" stroke="#7a7a7a" stroke-width="3.5"/>
<line x1="476.3" y1="2129.0" x2="503.3" y2="2129.0" stroke="#7a7a7a" stroke-width="3"/>
<rect x="463.8" y="2028.3" width="52.0" height="84.4" fill="#00de02" stroke="#0c7a0c" stroke-width="2.6"/>
<line x1="463.8" y1="2073.2" x2="515.8" y2="2073.2" stroke="#0c6a0c" stroke-width="2.2"/>
<path d="M476.5 2060.0 L490.0 2046.5 L503.5 2060.0 L490.0 2073.5 Z" fill="none" stroke="#0b5a0b" stroke-width="2"/>
<line x1="581.0" y1="1941.4" x2="581.0" y2="1997.0" stroke="#7a7a7a" stroke-width="3.5"/>
<line x1="567.5" y1="1941.4" x2="594.5" y2="1941.4" stroke="#7a7a7a" stroke-width="3"/>
<line x1="581.0" y1="2083.4" x2="581.0" y2="2096.0" stroke="#7a7a7a" stroke-width="3.5"/>
<line x1="567.5" y1="2096.0" x2="594.5" y2="2096.0" stroke="#7a7a7a" stroke-width="3"/>
<rect x="555.0" y="1997.0" width="52.0" height="86.4" fill="#f3ee8e" stroke="#817c4e" stroke-width="2.6"/>
<line x1="555.0" y1="2015.7" x2="607.0" y2="2015.7" stroke="#5a5528" stroke-width="2.2"/>
<path d="M567.5 2025.3 L581.0 2011.8 L594.5 2025.3 L581.0 2038.8 Z" fill="none" stroke="#4a4622" stroke-width="2"/>
<line x1="672.5" y1="1905.4" x2="672.5" y2="1949.8" stroke="#7a7a7a" stroke-width="3.5"/>
<line x1="659.0" y1="1905.4" x2="686.0" y2="1905.4" stroke="#7a7a7a" stroke-width="3"/>
<line x1="672.5" y1="2142.0" x2="672.5" y2="2163.0" stroke="#7a7a7a" stroke-width="3.5"/>
<line x1="659.0" y1="2163.0" x2="686.0" y2="2163.0" stroke="#7a7a7a" stroke-width="3"/>
<rect x="646.5" y="1949.8" width="52.0" height="192.2" fill="#00de02" stroke="#0c7a0c" stroke-width="2.6"/>
<line x1="646.5" y1="2066.0" x2="698.5" y2="2066.0" stroke="#0c6a0c" stroke-width="2.2"/>
<path d="M659.5 2048.6 L673.0 2035.1 L686.5 2048.6 L673.0 2062.1 Z" fill="none" stroke="#0b5a0b" stroke-width="2"/>
<text x="216.5" y="2397.8" font-size="42" text-anchor="middle" fill="#101014" >(6)</text>
<text x="314.0" y="2397.8" font-size="42" text-anchor="middle" fill="#101014" >(8)</text>
<text x="404.0" y="2397.8" font-size="42" text-anchor="middle" fill="#101014" >(5)</text>
<text x="490.0" y="2397.8" font-size="42" text-anchor="middle" fill="#101014" >(8)</text>
<text x="581.0" y="2397.8" font-size="42" text-anchor="middle" fill="#101014" >(6)</text>
<text x="679.0" y="2397.8" font-size="42" text-anchor="middle" fill="#101014" >(8)</text>
<text x="699.0" y="1709.0" font-size="63" text-anchor="middle" fill="#101014" >TotTh</text>
<text transform="translate(110.5,2042) rotate(-90)" font-size="53" text-anchor="middle" fill="#101014">nmol g<tspan font-size="39" dy="-22">–1</tspan></text>
<line x1="881.4" y1="1737.1" x2="881.4" y2="2342.7" stroke="#767676" stroke-width="3"/>
<line x1="879.9" y1="2341.2" x2="1212.0" y2="2341.2" stroke="#767676" stroke-width="3"/>
<line x1="869.9" y1="2341.2" x2="881.4" y2="2341.2" stroke="#767676" stroke-width="3"/>
<text x="866.7" y="2356.9" font-size="54" text-anchor="end" fill="#101014" >0</text>
<line x1="869.9" y1="2220.7" x2="881.4" y2="2220.7" stroke="#767676" stroke-width="3"/>
<text x="866.7" y="2236.4" font-size="54" text-anchor="end" fill="#101014" >2</text>
<line x1="869.9" y1="2100.2" x2="881.4" y2="2100.2" stroke="#767676" stroke-width="3"/>
<text x="866.7" y="2115.9" font-size="54" text-anchor="end" fill="#101014" >4</text>
<line x1="869.9" y1="1979.7" x2="881.4" y2="1979.7" stroke="#767676" stroke-width="3"/>
<text x="866.7" y="1995.4" font-size="54" text-anchor="end" fill="#101014" >6</text>
<line x1="869.9" y1="1859.2" x2="881.4" y2="1859.2" stroke="#767676" stroke-width="3"/>
<text x="866.7" y="1874.9" font-size="54" text-anchor="end" fill="#101014" >8</text>
<line x1="869.9" y1="1738.7" x2="881.4" y2="1738.7" stroke="#767676" stroke-width="3"/>
<text x="866.7" y="1754.4" font-size="54" text-anchor="end" fill="#101014" >10</text>
<line x1="876.4" y1="2280.9" x2="881.4" y2="2280.9" stroke="#767676" stroke-width="2.4000000000000004"/>
<line x1="876.4" y1="2160.4" x2="881.4" y2="2160.4" stroke="#767676" stroke-width="2.4000000000000004"/>
<line x1="876.4" y1="2039.9" x2="881.4" y2="2039.9" stroke="#767676" stroke-width="2.4000000000000004"/>
<line x1="876.4" y1="1919.4" x2="881.4" y2="1919.4" stroke="#767676" stroke-width="2.4000000000000004"/>
<line x1="876.4" y1="1798.9" x2="881.4" y2="1798.9" stroke="#767676" stroke-width="2.4000000000000004"/>
<line x1="936.8" y1="2341.2" x2="936.8" y2="2350.2" stroke="#767676" stroke-width="3"/>
<line x1="1046.2" y1="2341.2" x2="1046.2" y2="2350.2" stroke="#767676" stroke-width="3"/>
<line x1="1154.9" y1="2341.2" x2="1154.9" y2="2350.2" stroke="#767676" stroke-width="3"/>
<line x1="991.0" y1="2341.2" x2="991.0" y2="2346.2" stroke="#767676" stroke-width="2.4000000000000004"/>
<line x1="1100.6" y1="2341.2" x2="1100.6" y2="2346.2" stroke="#767676" stroke-width="2.4000000000000004"/>
<line x1="1209.5" y1="2341.2" x2="1209.5" y2="2346.2" stroke="#767676" stroke-width="2.4000000000000004"/>
<rect x="914.2" y="1907.2" width="45.2" height="434.0" fill="#ff0000"/>
<line x1="936.8" y1="1874.2" x2="936.8" y2="1907.2" stroke="#ff0000" stroke-width="5.2"/>
<line x1="928.3" y1="1874.9" x2="945.3" y2="1874.9" stroke="#ff0000" stroke-width="4.6"/>
<rect x="1023.6" y="1869.3" width="45.2" height="471.9" fill="#ff0000"/>
<line x1="1046.2" y1="1793.0" x2="1046.2" y2="1869.3" stroke="#ff0000" stroke-width="5.2"/>
<line x1="1037.7" y1="1793.7" x2="1054.7" y2="1793.7" stroke="#ff0000" stroke-width="4.6"/>
<rect x="1132.6" y="1884.0" width="44.7" height="457.2" fill="#ff0000"/>
<line x1="1154.9" y1="1835.3" x2="1154.9" y2="1884.0" stroke="#ff0000" stroke-width="5.2"/>
<line x1="1146.4" y1="1836.0" x2="1163.4" y2="1836.0" stroke="#ff0000" stroke-width="4.6"/>
<text x="937.0" y="2397.8" font-size="42" text-anchor="middle" fill="#101014" >(9)</text>
<text x="1046.2" y="2397.8" font-size="42" text-anchor="middle" fill="#101014" >(5)</text>
<text x="1155.0" y="2397.8" font-size="42" text-anchor="middle" fill="#101014" >(10)</text>
<text x="936.3" y="1810.5" font-size="54" text-anchor="middle" fill="#101014" >a</text>
<text x="1045.6" y="1771.7" font-size="54" text-anchor="middle" fill="#101014" >a</text>
<text x="1155.0" y="1786.3" font-size="54" text-anchor="middle" fill="#101014" >a</text>
<text transform="translate(811.2,2042) rotate(-90)" font-size="53" text-anchor="middle" fill="#101014">nmol g<tspan font-size="39" dy="-22">–1</tspan></text>
<text x="268.0" y="2464.0" font-size="54" text-anchor="middle" fill="#101014" >BPr</text>
<text x="444.0" y="2464.0" font-size="54" text-anchor="middle" fill="#101014" >BS</text>
<text x="612.0" y="2464.0" font-size="54" text-anchor="middle" fill="#101014" >GoF</text>
<text x="936.0" y="2464.0" font-size="54" text-anchor="middle" fill="#101014" >BPr</text>
<text x="1046.0" y="2464.0" font-size="54" text-anchor="middle" fill="#101014" >BS</text>
<text x="1155.0" y="2464.0" font-size="54" text-anchor="middle" fill="#101014" >GoF</text>
<rect x="351.5" y="2492.5" width="85" height="40" rx="1.5" fill="#f3ee8e" stroke="#8a865a" stroke-width="3.4"/>
<text x="449.5" y="2525.0" font-size="36.5" text-anchor="start" fill="#101014" textLength="91" lengthAdjust="spacingAndGlyphs">Sprat</text>
<rect x="574.3" y="2492.5" width="85" height="40" rx="1.5" fill="#00de02" stroke="#0a8c14" stroke-width="3.4"/>
<text x="670.3" y="2525.0" font-size="36.5" text-anchor="start" fill="#101014" textLength="125.5" lengthAdjust="spacingAndGlyphs">Herring</text>
<rect x="833" y="2492.5" width="84" height="40" rx="1.5" fill="#ff0000"/>
<text x="929.5" y="2525.0" font-size="36.5" text-anchor="start" fill="#101014" textLength="126.5" lengthAdjust="spacingAndGlyphs">Salmon</text>
</g></g>
</svg>
</body></html>
